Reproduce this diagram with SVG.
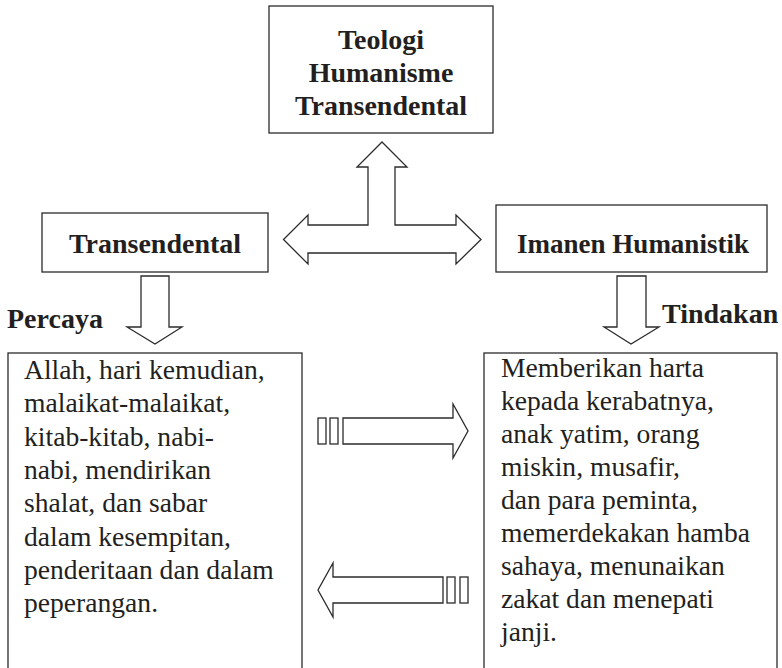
<svg xmlns="http://www.w3.org/2000/svg" width="782" height="668" viewBox="0 0 782 668">
<style>
  .box { fill: #ffffff; stroke: #2b2b2b; stroke-width: 1.3; }
  .arrow { fill: #ffffff; stroke: #2b2b2b; stroke-width: 1.3; stroke-linejoin: miter; }
  .title { font-family: "Liberation Serif", "Times New Roman", serif; font-weight: bold; font-size: 28px; fill: #231f20; }
  .body { font-family: "Liberation Serif", "Times New Roman", serif; font-size: 27.6px; fill: #231f20; }
</style>
<rect width="782" height="668" fill="#ffffff"/>

<g id="node-teologi">
  <rect class="box" x="269" y="6" width="224" height="127"/>
  <text class="title" x="381" y="49" text-anchor="middle">Teologi</text>
  <text class="title" x="381" y="82" text-anchor="middle">Humanisme</text>
  <text class="title" x="381" y="115" text-anchor="middle">Transendental</text>
</g>

<g id="node-transendental">
  <rect class="box" x="42" y="213" width="226" height="59"/>
  <text class="title" x="155" y="253" text-anchor="middle">Transendental</text>
</g>

<g id="node-imanen">
  <rect class="box" x="496" y="205" width="271" height="67"/>
  <text class="title" x="633" y="253" text-anchor="middle" style="font-size:27px">Imanen Humanistik</text>
</g>

<g id="node-percaya-box">
  <rect class="box" x="8" y="353" width="294" height="330"/>
  <text class="body" x="24" y="379">Allah, hari kemudian,</text>
  <text class="body" x="24" y="412">malaikat-malaikat,</text>
  <text class="body" x="24" y="446">kitab-kitab, nabi-</text>
  <text class="body" x="24" y="479">nabi, mendirikan</text>
  <text class="body" x="24" y="512">shalat, dan sabar</text>
  <text class="body" x="24" y="546">dalam kesempitan,</text>
  <text class="body" x="24" y="579">penderitaan dan dalam</text>
  <text class="body" x="24" y="612">peperangan.</text>
</g>

<g id="node-tindakan-box">
  <rect class="box" x="484" y="353" width="293" height="330"/>
  <text class="body" x="501" y="377">Memberikan harta</text>
  <text class="body" x="501" y="410">kepada kerabatnya,</text>
  <text class="body" x="501" y="443">anak yatim, orang</text>
  <text class="body" x="501" y="476">miskin, musafir,</text>
  <text class="body" x="501" y="509">dan para peminta,</text>
  <text class="body" x="501" y="542">memerdekakan hamba</text>
  <text class="body" x="501" y="575">sahaya, menunaikan</text>
  <text class="body" x="501" y="608">zakat dan menepati</text>
  <text class="body" x="501" y="641">janji.</text>
</g>

<g id="label-percaya">
  <text class="title" x="7" y="328">Percaya</text>
</g>
<g id="label-tindakan">
  <text class="title" x="662" y="323">Tindakan</text>
</g>

<g id="connectors">
  <path class="arrow" d="M382,142 L407,167 L395,167 L395,225 L456,225 L456,215 L481,239.5 L456,264 L456,253 L308,253 L308,264 L283.5,239.5 L308,215 L308,225 L368,225 L368,167 L357,167 Z"/>
  <path class="arrow" d="M141,276 L169,276 L169,327 L182,327 L155,344 L127,327 L141,327 Z"/>
  <path class="arrow" d="M617,276 L646,276 L646,327 L659,327 L631,344 L604,327 L617,327 Z"/>
  <rect class="arrow" x="318" y="418" width="8" height="26"/>
  <rect class="arrow" x="330" y="418" width="8" height="26"/>
  <path class="arrow" d="M343,418 L453,418 L453,404 L468,431 L453,458 L453,444 L343,444 Z"/>
  <path class="arrow" d="M443,577 L333,577 L333,563 L318,590 L333,617 L333,603 L443,603 Z"/>
  <rect class="arrow" x="447" y="577" width="8" height="26"/>
  <rect class="arrow" x="460" y="577" width="8" height="26"/>
</g>
</svg>
